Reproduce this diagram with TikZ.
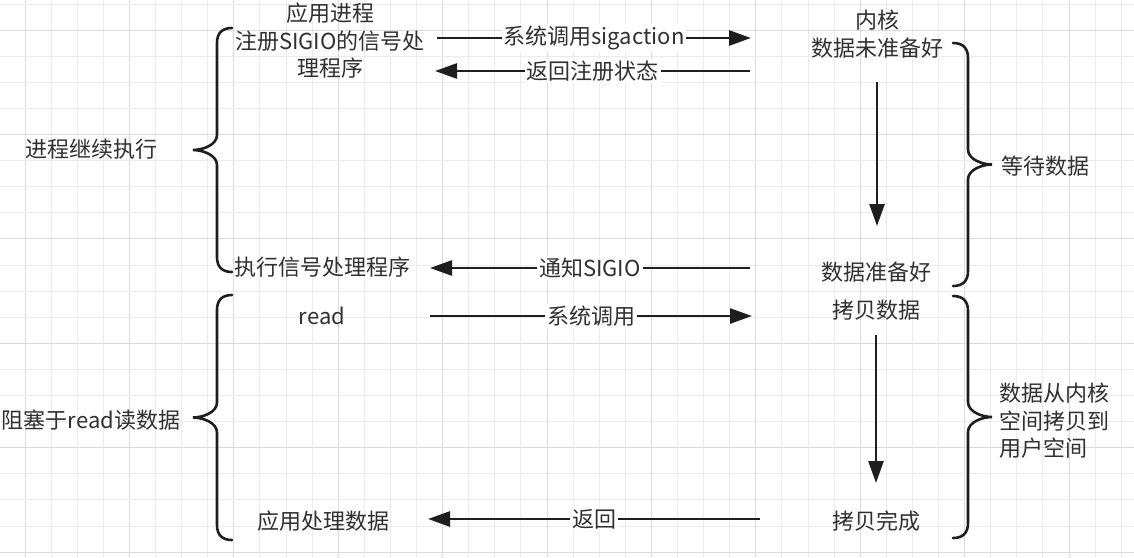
\documentclass[tikz,border=0pt]{standalone}
\usepackage{fontspec}
\setmainfont{Noto Sans CJK SC}
\usetikzlibrary{arrows.meta}
\definecolor{ink}{HTML}{1E1E1E}
\definecolor{txt}{HTML}{303030}
\definecolor{gridminor}{HTML}{EBEBEB}
\definecolor{gridmajor}{HTML}{DADADA}

% curly bracket: #1 spine x, #2 top y, #3 bottom y, #4 tip x, #5 lip x
\newcommand{\drawcurly}[5]{%
  \pgfmathsetmacro\bracemid{(#2+#3)/2}%
  \draw[brace] (#5,#2) .. controls ({#1+0.35*(#5-#1)},#2) and (#1,{#2+5}) .. (#1,{#2+15})
    -- (#1,{\bracemid-15})
    .. controls (#1,{\bracemid-5}) and ({#4+0.4*(#1-#4)},\bracemid) .. (#4,\bracemid)
    .. controls ({#4+0.4*(#1-#4)},\bracemid) and (#1,{\bracemid+5}) .. (#1,{\bracemid+15})
    -- (#1,{#3-15})
    .. controls (#1,{#3-5}) and ({#1+0.35*(#5-#1)},#3) .. (#5,#3);%
}

\begin{document}
\begin{tikzpicture}[x=1pt,y=-1pt,
  lbl/.style={font=\fontsize{22}{27.5}\selectfont, text=txt, inner sep=1pt, align=center},
  edgelbl/.style={lbl, fill=white, inner sep=2pt},
  flow/.style={draw=ink, line width=2.6pt, -{Triangle[length=22pt,width=15pt]}},
  brace/.style={draw=ink, line width=2.6pt, line cap=round},
]
\useasboundingbox (0,0) rectangle (1134,557);
\fill[white] (0,0) rectangle (1134,557);

% background grid
\foreach \k in {0,...,42} {
  \pgfmathsetmacro\gx{25+26.1*\k}
  \pgfmathtruncatemacro\gm{mod(\k,4)}
  \ifnum\gm=0
    \draw[gridmajor, line width=1pt] (\gx,0) -- (\gx,557);
  \else
    \draw[gridminor, line width=1pt] (\gx,0) -- (\gx,557);
  \fi
}
\foreach \k in {0,...,21} {
  \pgfmathsetmacro\gy{4+26.1*\k}
  \pgfmathtruncatemacro\gm{mod(\k,4)}
  \ifnum\gm=1
    \draw[gridmajor, line width=1pt] (0,\gy) -- (1134,\gy);
  \else
    \draw[gridminor, line width=1pt] (0,\gy) -- (1134,\gy);
  \fi
}

% application side
\node[lbl] (app) at (330,41) {应用进程\\注册SIGIO的信号处\\理程序};
\node[lbl] (handler) at (322,267) {执行信号处理程序};
\node[lbl] (read) at (322,316) {read};
\node[lbl] (appdata) at (323,521) {应用处理数据};
\node[lbl] (cont) at (91,149) {进程继续执行};
\node[lbl] (block) at (91,420) {阻塞于read读数据};

% kernel side
\node[lbl] (kernel) at (877,34) {内核\\数据未准备好};
\node[lbl] (ready) at (876,272) {数据准备好};
\node[lbl] (copy) at (876,310) {拷贝数据};
\node[lbl] (done) at (876,521) {拷贝完成};
\node[lbl] (wait) at (1045,166) {等待数据};
\node[lbl, align=left, anchor=west] (span) at (998,421) {数据从内核\\空间拷贝到\\用户空间};

% connector end points
\coordinate (a1s) at (437,38);  \coordinate (a1e) at (751,38);
\coordinate (a2s) at (750,71);  \coordinate (a2e) at (435,71);
\coordinate (a3s) at (750,268); \coordinate (a3e) at (430,268);
\coordinate (a4s) at (430,316); \coordinate (a4e) at (752,316);
\coordinate (a5s) at (760,519); \coordinate (a5e) at (428,519);
\coordinate (v1s) at (877,82);  \coordinate (v1e) at (877,226);
\coordinate (v2s) at (876,335); \coordinate (v2e) at (876,483);

% messages
\draw[flow] (a1s) -- node[edgelbl] {系统调用sigaction} (a1e);
\draw[flow] (a2s) -- node[edgelbl] {返回注册状态} (a2e);
\draw[flow] (a3s) -- node[edgelbl] {通知SIGIO} (a3e);
\draw[flow] (a4s) -- node[edgelbl] {系统调用} (a4e);
\draw[flow] (a5s) -- node[edgelbl] {返回} (a5e);
\draw[flow] (v1s) -- (v1e);
\draw[flow] (v2s) -- (v2e);

% phase brackets
\drawcurly{217}{28}{272}{193}{232}
\drawcurly{217}{295}{540}{193}{232}
\drawcurly{968}{43}{286}{992}{953}
\drawcurly{968}{296}{538}{992}{953}
\end{tikzpicture}
\end{document}
